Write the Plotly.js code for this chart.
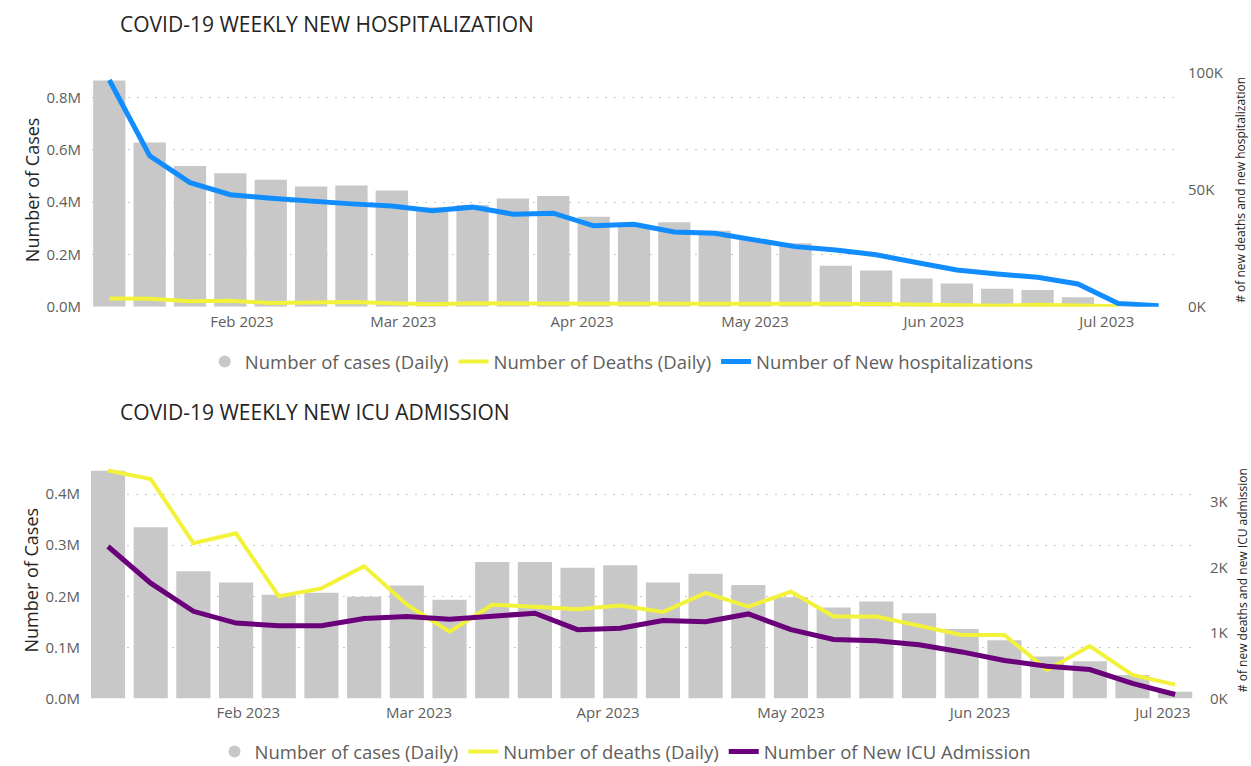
<!DOCTYPE html>
<html>
<head>
<meta charset="utf-8">
<script src="https://cdn.plot.ly/plotly-3.0.1.min.js"></script>
<style>
  html, body { margin: 0; padding: 0; background: #ffffff; overflow: hidden; width: 1251px; height: 766px; }
  #chart { position: absolute; left: 0; top: 0; width: 1251px; height: 766px; overflow: hidden; }
</style>
</head>
<body>
<div id="chart"></div>
<script>
// ---------- Data ----------
const weeks = ["2023-01-09","2023-01-16","2023-01-23","2023-01-30","2023-02-06","2023-02-13","2023-02-20","2023-02-27",
  "2023-03-06","2023-03-13","2023-03-20","2023-03-27","2023-04-03","2023-04-10","2023-04-17","2023-04-24",
  "2023-05-01","2023-05-08","2023-05-15","2023-05-22","2023-05-29","2023-06-05","2023-06-12","2023-06-19",
  "2023-06-26","2023-07-03","2023-07-10"];

// Top chart
const casesTop = [864000, 627000, 538000, 510000, 485000, 459000, 463000, 444000, 380000, 389000, 413000, 423000,
  344000, 310000, 323000, 290000, 255000, 242000, 156000, 138000, 108000, 89000, 69000, 64000, 36000];
const hospitalizations = [97000, 64600, 53100, 47900, 46400, 45000, 44000, 43100, 41100, 42600, 39600, 40000,
  34600, 35300, 32000, 31400, 28600, 25700, 24300, 22200, 18900, 15700, 14000, 12600, 9700, 1400, 400];

// Deaths (shared by both charts)
const deaths = [3480, 3350, 2370, 2520, 1560, 1680, 2020, 1430, 1020, 1430, 1400, 1360, 1420, 1320, 1610, 1400,
  1630, 1250, 1250, 1110, 970, 970, 435, 800, 360, 210];

// Bottom chart
const casesBottom = [446000, 335000, 249000, 227000, 203000, 207000, 199000, 221000, 193000, 267000, 267000, 256000,
  261000, 227000, 244000, 222000, 198000, 178000, 190000, 167000, 136000, 114000, 82000, 73000, 46000, 13000];
const icuAdmissions = [2320, 1760, 1330, 1150, 1110, 1110, 1220, 1250, 1210, 1260, 1300, 1050, 1070, 1190, 1170, 1290,
  1050, 900, 880, 820, 710, 580, 490, 440, 230, 60];

// Tick labels
const leftTopVals = [0, 200000, 400000, 600000, 800000];
const leftTopText = ["0.0M", "0.2M", "0.4M", "0.6M", "0.8M"];
const rightTopVals = [0, 50000, 100000];
const rightTopText = ["0K", "50K", "100K"];
const leftBotVals = [0, 100000, 200000, 300000, 400000];
const leftBotText = ["0.0M", "0.1M", "0.2M", "0.3M", "0.4M"];
const rightBotVals = [0, 1000, 2000, 3000];
const rightBotText = ["0K", "1K", "2K", "3K"];

// ---------- Styles ----------
const FONT = "'Segoe UI', 'Open Sans', sans-serif";
const GRAY_BAR = "#C8C8C8";
const BLUE = "#118DFF";
const YELLOW = "#F2F23A";
const PURPLE = "#6B007B";
const TICK = "#605E5C";
const WEEK_MS = 7 * 24 * 3600 * 1000;

const traces = [
  // ---- top ----
  {type: "bar", x: weeks.slice(0, casesTop.length), y: casesTop, xaxis: "x", yaxis: "y",
   marker: {color: GRAY_BAR}, width: 0.8 * WEEK_MS, name: "Number of cases (Daily)", showlegend: false, legendgroup: "c1"},
  {type: "scatter", mode: "markers", x: [null], y: [null], xaxis: "x", yaxis: "y",
   marker: {color: GRAY_BAR, size: 12, symbol: "circle"}, name: "Number of cases (Daily)", legend: "legend", legendgroup: "c1"},
  {type: "scatter", mode: "lines", x: weeks.slice(0, deaths.length), y: deaths, xaxis: "x", yaxis: "y2",
   line: {color: YELLOW, width: 4}, name: "Number of Deaths (Daily)", legend: "legend"},
  {type: "scatter", mode: "lines", x: weeks.slice(0, hospitalizations.length), y: hospitalizations, xaxis: "x", yaxis: "y2",
   line: {color: BLUE, width: 5}, name: "Number of New hospitalizations", legend: "legend"},
  // ---- bottom ----
  {type: "bar", x: weeks.slice(0, casesBottom.length), y: casesBottom, xaxis: "x2", yaxis: "y3",
   marker: {color: GRAY_BAR}, width: 0.8 * WEEK_MS, name: "Number of cases (Daily)", showlegend: false, legendgroup: "c2"},
  {type: "scatter", mode: "markers", x: [null], y: [null], xaxis: "x2", yaxis: "y3",
   marker: {color: GRAY_BAR, size: 12, symbol: "circle"}, name: "Number of cases (Daily)", legend: "legend2", legendgroup: "c2"},
  {type: "scatter", mode: "lines", x: weeks.slice(0, deaths.length), y: deaths, xaxis: "x2", yaxis: "y4",
   line: {color: YELLOW, width: 4}, name: "Number of deaths (Daily)", legend: "legend2"},
  {type: "scatter", mode: "lines", x: weeks.slice(0, icuAdmissions.length), y: icuAdmissions, xaxis: "x2", yaxis: "y4",
   line: {color: PURPLE, width: 5}, name: "Number of New ICU Admission", legend: "legend2"}
];

const W = 1251, H = 766;
const px = v => v / W;
const py = v => 1 - v / H;

const xCommon = {
  type: "date", tickformat: "%b %Y", dtick: "M1", tick0: "2023-02-01",
  showgrid: false, zeroline: false, showline: false, ticks: "",
  tickfont: {family: FONT, size: 15, color: TICK}, ticklabelstandoff: 4
};
const yLeftCommon = {
  showgrid: true, gridcolor: "#C8C8C8", griddash: "2px,7px", gridwidth: 1,
  zeroline: false, showline: false, ticks: "", tickmode: "array",
  tickfont: {family: FONT, size: 15, color: TICK}, ticklabelstandoff: 10,
  title: {text: "Number of Cases", font: {family: FONT, size: 18, color: "#252423"}, standoff: 2}
};
const yRightCommon = {
  side: "right", showgrid: false, zeroline: false, showline: false, ticks: "",
  tickmode: "array", tickfont: {family: FONT, size: 15, color: TICK}, ticklabelstandoff: 12
};

const layout = {
  width: W, height: H,
  margin: {l: 0, r: 0, t: 0, b: 0, autoexpand: false},
  paper_bgcolor: "#ffffff", plot_bgcolor: "#ffffff",
  font: {family: FONT},
  xaxis: Object.assign({}, xCommon, {domain: [px(92), px(1175)], anchor: "y",
    range: ["2023-01-06 00:00", "2023-07-12 20:00"]}),
  yaxis: Object.assign({}, yLeftCommon, {domain: [py(306.7), py(73)], anchor: "x",
    range: [0, 893000], tickvals: leftTopVals, ticktext: leftTopText}),
  yaxis2: Object.assign({}, yRightCommon, {overlaying: "y", anchor: "x",
    range: [0, 100000], tickvals: rightTopVals, ticktext: rightTopText,
    title: {text: "# of new deaths and new hospitalization", font: {family: FONT, size: 12, color: "#252423"}, standoff: 13}}),
  xaxis2: Object.assign({}, xCommon, {domain: [px(91), px(1197)], anchor: "y3",
    range: ["2023-01-06 05:00", "2023-07-06 14:00"]}),
  yaxis3: Object.assign({}, yLeftCommon, {domain: [py(698.4), py(462)], anchor: "x2",
    range: [0, 463000], tickvals: leftBotVals, ticktext: leftBotText}),
  yaxis4: Object.assign({}, yRightCommon, {overlaying: "y3", anchor: "x2",
    range: [0, 3610], tickvals: rightBotVals, ticktext: rightBotText,
    title: {text: "# of new deaths and new ICU admission", font: {family: FONT, size: 12, color: "#252423"}, standoff: 12}}),
  legend: {orientation: "h", x: 0.497, xanchor: "center", y: py(362), yanchor: "middle",
    font: {family: FONT, size: 18.5, color: TICK}, bgcolor: "rgba(0,0,0,0)", itemwidth: 30,
    tracegroupgap: 0, itemclick: false},
  legend2: {orientation: "h", x: 0.5, xanchor: "center", y: -5 / H, yanchor: "bottom",
    font: {family: FONT, size: 18.5, color: TICK}, bgcolor: "rgba(0,0,0,0)", itemwidth: 30,
    tracegroupgap: 0, itemclick: false},
  annotations: [
    {text: "COVID-19 WEEKLY NEW HOSPITALIZATION", xref: "paper", yref: "paper", x: px(118), y: py(24),
     xanchor: "left", yanchor: "middle", showarrow: false, font: {family: FONT, size: 21, color: "#252423"}},
    {text: "COVID-19 WEEKLY NEW ICU ADMISSION", xref: "paper", yref: "paper", x: px(118), y: py(412),
     xanchor: "left", yanchor: "middle", showarrow: false, font: {family: FONT, size: 21, color: "#252423"}}
  ],
  showlegend: true
};

Plotly.newPlot("chart", traces, layout, {displayModeBar: false, staticPlot: true});
</script>
</body>
</html>
